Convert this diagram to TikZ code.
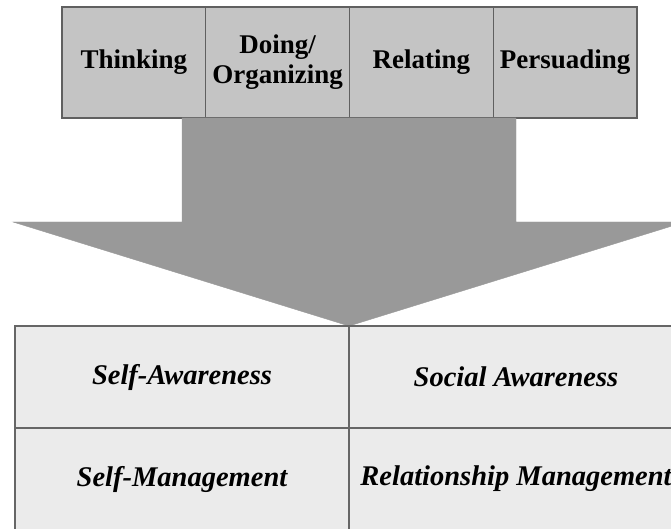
\documentclass[tikz,border=0pt]{standalone}
\usepackage{fontspec}
\setmainfont{Liberation Serif}
\begin{document}
\begin{tikzpicture}[x=1pt,y=-1pt,
  topbox/.style={draw=gray!75!black, line width=1.3pt, fill=black!23,
    minimum width=143.75pt, minimum height=111pt, inner sep=0pt,
    align=center, font=\fontsize{27}{30}\selectfont\bfseries},
  cell/.style={draw=gray!80!black, line width=1.3pt, fill=black!8,
    minimum width=334pt, minimum height=102pt, inner sep=0pt,
    font=\fontsize{28.5}{32}\selectfont\bfseries\itshape},
  arrowfill/.style={fill=black!40, draw=black!40, line width=0.4pt}]
  \useasboundingbox (0,0) rectangle (671,529);

  % four style boxes across the top
  \node[topbox] (think)  at (133.875,62.5) {Thinking};
  \node[topbox] (doing)  at (277.625,62.5) {Doing/\\Organizing};
  \node[topbox] (relate) at (421.375,62.5) {Relating};
  \node[topbox] (pers)   at (565.125,62.5) {Persuading};

  % broad downward arrow
  \coordinate (sl) at (182,118);
  \coordinate (sr) at (516,118);
  \coordinate (tip) at (349,326);
  \fill[arrowfill] (sl) -- (182,222) -- (13,222) -- (tip)
    -- (685,222) -- (516,222) -- (sr) -- cycle;

  % 2x2 grid of competencies
  \node[cell] (sa) at (182,377) {Self-Awareness};
  \node[cell] (so) at (516,377) {Social Awareness};
  \node[cell] (sm) at (182,479) {Self-Management};
  \node[cell] (rm) at (516,479) {Relationship Management};
\end{tikzpicture}
\end{document}
